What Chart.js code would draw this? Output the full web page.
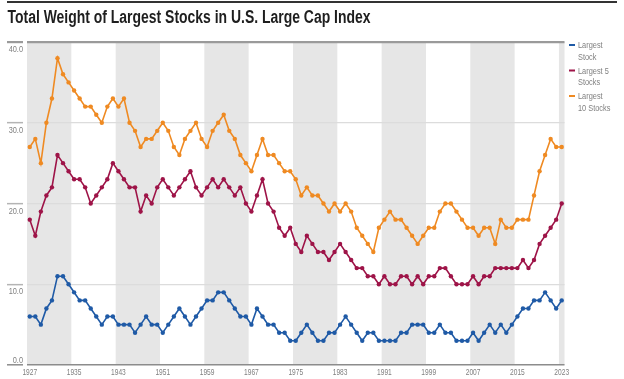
<!DOCTYPE html>
<html>
<head>
<meta charset="utf-8">
<script src="https://cdn.jsdelivr.net/npm/chart.js@4"></script>
<style>
  html, body { margin: 0; padding: 0; background: #ffffff; }
  #wrap { position: relative; width: 624px; height: 379px; }
  canvas { display: block; }
</style>
</head>
<body>
<div id="wrap"><canvas id="c" width="624" height="379"></canvas></div>
<script>
const TITLE = 'Total Weight of Largest Stocks in U.S. Large Cap Index';

const years = [
  1927,1928,1929,1930,1931,1932,1933,1934,1935,1936,
  1937,1938,1939,1940,1941,1942,1943,1944,1945,1946,
  1947,1948,1949,1950,1951,1952,1953,1954,1955,1956,
  1957,1958,1959,1960,1961,1962,1963,1964,1965,1966,
  1967,1968,1969,1970,1971,1972,1973,1974,1975,1976,
  1977,1978,1979,1980,1981,1982,1983,1984,1985,1986,
  1987,1988,1989,1990,1991,1992,1993,1994,1995,1996,
  1997,1998,1999,2000,2001,2002,2003,2004,2005,2006,
  2007,2008,2009,2010,2011,2012,2013,2014,2015,2016,
  2017,2018,2019,2020,2021,2022,2023
];

const largestStock = [
  6,6,5,7,8,11,11,10,9,8,
  8,7,6,5,6,6,5,5,5,4,
  5,6,5,5,4,5,6,7,6,5,
  6,7,8,8,9,9,8,7,6,6,
  5,7,6,5,5,4,4,3,3,4,
  5,4,3,3,4,4,5,6,5,4,
  3,4,4,3,3,3,3,4,4,5,
  5,5,4,4,5,4,4,3,3,3,
  4,3,4,5,4,5,4,5,6,7,
  7,8,8,9,8,7,8
];

const largest5 = [
  18,16,19,21,22,26,25,24,23,23,
  22,20,21,22,23,25,24,23,22,22,
  19,21,20,22,23,22,21,22,23,24,
  22,21,22,23,22,23,22,21,22,20,
  19,21,23,20,19,17,16,17,15,14,
  16,15,14,14,13,14,15,14,13,12,
  12,11,11,10,11,10,10,11,11,10,
  11,10,11,11,12,12,11,10,10,10,
  11,10,11,11,12,12,12,12,12,13,
  12,13,15,16,17,18,20
];

const largest10 = [
  27,28,25,30,33,38,36,35,34,33,
  32,32,31,30,32,33,32,33,30,29,
  27,28,28,29,30,29,27,26,28,29,
  30,28,27,29,30,31,29,28,26,25,
  24,26,28,26,26,25,24,24,23,21,
  22,21,21,20,19,20,19,20,19,17,
  16,15,14,17,18,19,18,18,17,16,
  15,16,17,17,19,20,20,19,18,17,
  17,16,17,17,15,18,17,17,18,18,
  18,21,24,26,28,27,27
];

const seriesNames = [['Largest', 'Stock'], ['Largest 5', 'Stocks'], ['Largest', '10 Stocks']];
const seriesColors = ['#1f5aa6', '#9e1448', '#ef8a22'];
const xTickYears = [1927,1935,1943,1951,1959,1967,1975,1983,1991,1999,2007,2015,2023];
const yTickValues = [0,10,20,30,40];
const shadedStartYears = [1927,1943,1959,1975,1991,2007,2023];
const shadeSpan = 8;

const FONT = "'Liberation Sans', Arial, 'Noto Sans', sans-serif";

function pts(vals) { return vals.map((v, i) => ({ x: years[i], y: v })); }

function narrowText(ctx, text, x, y, size, weight, align, sx, color, baseline) {
  ctx.save();
  ctx.font = weight + ' ' + size + 'px ' + FONT;
  ctx.fillStyle = color;
  ctx.textAlign = align;
  ctx.textBaseline = baseline || 'alphabetic';
  ctx.translate(x, y);
  ctx.scale(sx, 1);
  ctx.fillText(text, 0, 0);
  ctx.restore();
}

const decorPlugin = {
  id: 'decor',
  beforeDraw(chart) {
    const ctx = chart.ctx, ca = chart.chartArea, xs = chart.scales.x;
    ctx.save();
    ctx.fillStyle = '#e6e6e6';
    shadedStartYears.forEach(s => {
      const a = Math.max(xs.getPixelForValue(s - 0.5), ca.left);
      const b = Math.min(xs.getPixelForValue(s - 0.5 + shadeSpan), ca.right);
      if (b > a) ctx.fillRect(a, ca.top, b - a, ca.bottom - ca.top);
    });
    // top rule and title
    ctx.fillStyle = '#333333';
    ctx.fillRect(7, 1, 610, 2);
    ctx.font = 'bold 18px ' + FONT;
    const w = ctx.measureText(TITLE).width;
    ctx.restore();
    narrowText(ctx, TITLE, 7.5, 23, 18, 'bold', 'left', 363 / w, '#1e1e1e');
  },
  afterDraw(chart) {
    const ctx = chart.ctx, ys = chart.scales.y, xs = chart.scales.x;
    // y tick labels
    yTickValues.forEach(v => {
      const py = ys.getPixelForValue(v);
      narrowText(ctx, v.toFixed(1), 23, v === 0 ? py - 2 : py + 10, 9, 'normal', 'right', 0.82, '#808080');
    });
    // x tick labels
    xTickYears.forEach(v => {
      narrowText(ctx, String(v), xs.getPixelForValue(v), 375, 8.5, 'normal', 'center', 0.78, '#808080');
    });
    // legend
    const lx = 569, ly0 = 45, step = 25.5;
    chart.data.datasets.forEach((ds, i) => {
      const y = ly0 + i * step;
      ctx.save();
      ctx.fillStyle = ds.borderColor;
      ctx.fillRect(lx, y - 1, 6, 2);
      ctx.restore();
      ds.label.forEach((t, k) => narrowText(ctx, t, lx + 9, y + 3 + k * 11.5, 9, 'normal', 'left', 0.82, '#808080'));
    });
  }
};

const gridColor = c => {
  const v = c.tick.value;
  if (v === 40) return '#9a9a9a';
  if (v === 0) return '#8c8c8c';
  return '#dcdcdc';
};

new Chart(document.getElementById('c'), {
  type: 'line',
  data: {
    datasets: [
      { label: seriesNames[0], data: pts(largestStock) },
      { label: seriesNames[1], data: pts(largest5) },
      { label: seriesNames[2], data: pts(largest10) }
    ].map((d, i) => Object.assign(d, {
      borderColor: seriesColors[i],
      backgroundColor: seriesColors[i],
      borderWidth: 1.6,
      pointRadius: 2.2,
      pointBorderWidth: 0,
      pointHoverRadius: 2.2,
      tension: 0,
      fill: false,
      clip: 6
    }))
  },
  options: {
    responsive: false,
    animation: false,
    events: [],
    layout: { padding: { top: 42, right: 59.5, left: 0, bottom: 0 } },
    plugins: { legend: { display: false }, title: { display: false }, tooltip: { enabled: false } },
    scales: {
      x: {
        type: 'linear',
        min: 1926.5,
        max: 2023.5,
        afterBuildTicks: s => { s.ticks = xTickYears.map(v => ({ value: v })); },
        afterFit: s => { s.height = 14; },
        grid: { display: false, drawTicks: false },
        border: { display: false },
        ticks: { display: false }
      },
      y: {
        min: 0,
        max: 40,
        afterBuildTicks: s => { s.ticks = yTickValues.map(v => ({ value: v })); },
        afterFit: s => { s.width = 27; },
        border: { display: false },
        grid: {
          color: gridColor,
          lineWidth: c => (c.tick.value === 40 ? 2.2 : (c.tick.value === 0 ? 1.6 : 1.3)),
          drawTicks: true,
          tickLength: 20,
          tickColor: c => (c.tick.value === 40 ? '#9a9a9a' : (c.tick.value === 0 ? '#8c8c8c' : '#b4b4b4')),
          tickWidth: c => (c.tick.value === 40 ? 2.2 : 1.5),
          tickBorderDash: [16, 4],
          tickBorderDashOffset: 0
        },
        ticks: { display: false }
      }
    }
  },
  plugins: [decorPlugin]
});
</script>
</body>
</html>
